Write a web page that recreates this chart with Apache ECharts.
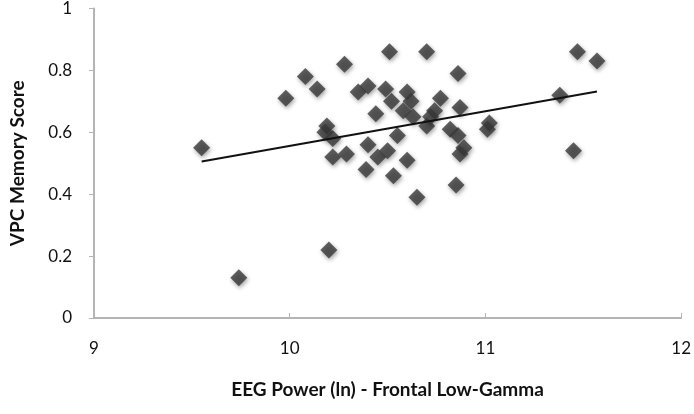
<!DOCTYPE html>
<html>
<head>
<meta charset="utf-8">
<script src="https://cdn.jsdelivr.net/npm/echarts@6/dist/echarts.min.js"></script>
<style>
html,body{margin:0;padding:0;background:#fff;}
#c{width:694px;height:414px;}
</style>
</head>
<body>
<div id="c"></div>
<script>
// EEG power (ln) values
var eegPower = [9.55, 9.74, 9.98, 10.08, 10.14, 10.28, 10.19, 10.18, 10.22, 10.22,
  10.29, 10.20, 10.35, 10.40, 10.44, 10.40, 10.45, 10.39, 10.51, 10.70,
  10.86, 11.47, 11.57, 11.38, 11.45, 10.49, 10.52, 10.60, 10.62, 10.58,
  10.63, 10.55, 10.50, 10.60, 10.53, 10.65, 10.77, 10.74, 10.87, 10.70,
  10.82, 10.86, 11.02, 11.01, 10.89, 10.87, 10.85, 10.72];
// VPC memory scores
var memoryScore = [0.55, 0.13, 0.71, 0.78, 0.74, 0.82, 0.62, 0.60, 0.58, 0.52,
  0.53, 0.22, 0.73, 0.75, 0.66, 0.56, 0.52, 0.48, 0.86, 0.86,
  0.79, 0.86, 0.83, 0.72, 0.54, 0.74, 0.70, 0.73, 0.70, 0.67,
  0.65, 0.59, 0.54, 0.51, 0.46, 0.39, 0.71, 0.67, 0.68, 0.62,
  0.61, 0.59, 0.63, 0.61, 0.55, 0.53, 0.43, 0.65];
// linear trend line endpoints
var trendX = [9.55, 11.57];
var trendY = [0.506, 0.732];

var xTicks = [9, 10, 11, 12];
var yTicks = [0, 0.2, 0.4, 0.6, 0.8, 1];

var points = eegPower.map(function (x, i) { return [x, memoryScore[i]]; });
var trend = trendX.map(function (x, i) { return [x, trendY[i]]; });

var chart = echarts.init(document.getElementById('c'), null, {renderer: 'canvas'});
var fontFam = 'Lato, "Open Sans", sans-serif';
chart.setOption({
  animation: false,
  backgroundColor: '#ffffff',
  grid: {left: 89, right: 11, top: 6, bottom: 96, containLabel: false},
  xAxis: {
    type: 'value', min: 9, max: 12, interval: 1,
    name: 'EEG Power (ln) - Frontal Low-Gamma',
    nameLocation: 'middle', nameGap: 62,
    nameTextStyle: {fontFamily: fontFam, fontWeight: 'bold', fontSize: 19, color: '#111'},
    axisLine: {show: true, lineStyle: {color: '#b4b4b4', width: 2}},
    axisTick: {show: true, inside: true, length: 5, lineStyle: {color: '#b4b4b4', width: 1}},
    axisLabel: {fontFamily: fontFam, fontSize: 17, color: '#111', margin: 22,
      formatter: function (v) { return xTicks.indexOf(v) >= 0 ? String(v) : ''; }},
    splitLine: {show: false}
  },
  yAxis: {
    type: 'value', min: 0, max: 1, interval: 0.2,
    name: 'VPC Memory Score',
    nameLocation: 'middle', nameGap: 67, nameRotate: 90,
    nameTextStyle: {fontFamily: fontFam, fontWeight: 'bold', fontSize: 19, color: '#111'},
    axisLine: {show: true, lineStyle: {color: '#b4b4b4', width: 2}},
    axisTick: {show: true, inside: false, length: 5, lineStyle: {color: '#b4b4b4', width: 1}},
    axisLabel: {fontFamily: fontFam, fontSize: 17, color: '#111', margin: 22,
      formatter: function (v) {
        var r = Math.round(v * 10) / 10;
        return yTicks.indexOf(r) >= 0 ? String(r) : '';
      }},
    splitLine: {show: false}
  },
  series: [
    {
      type: 'scatter', data: points, symbol: 'diamond', symbolSize: 17,
      itemStyle: {color: '#383838', shadowBlur: 4, shadowColor: 'rgba(0,0,0,0.45)', shadowOffsetX: 1, shadowOffsetY: 2},
      z: 2
    },
    {
      type: 'line', data: trend, symbol: 'none',
      lineStyle: {color: '#111111', width: 2}, z: 3
    }
  ]
});
</script>
</body>
</html>
